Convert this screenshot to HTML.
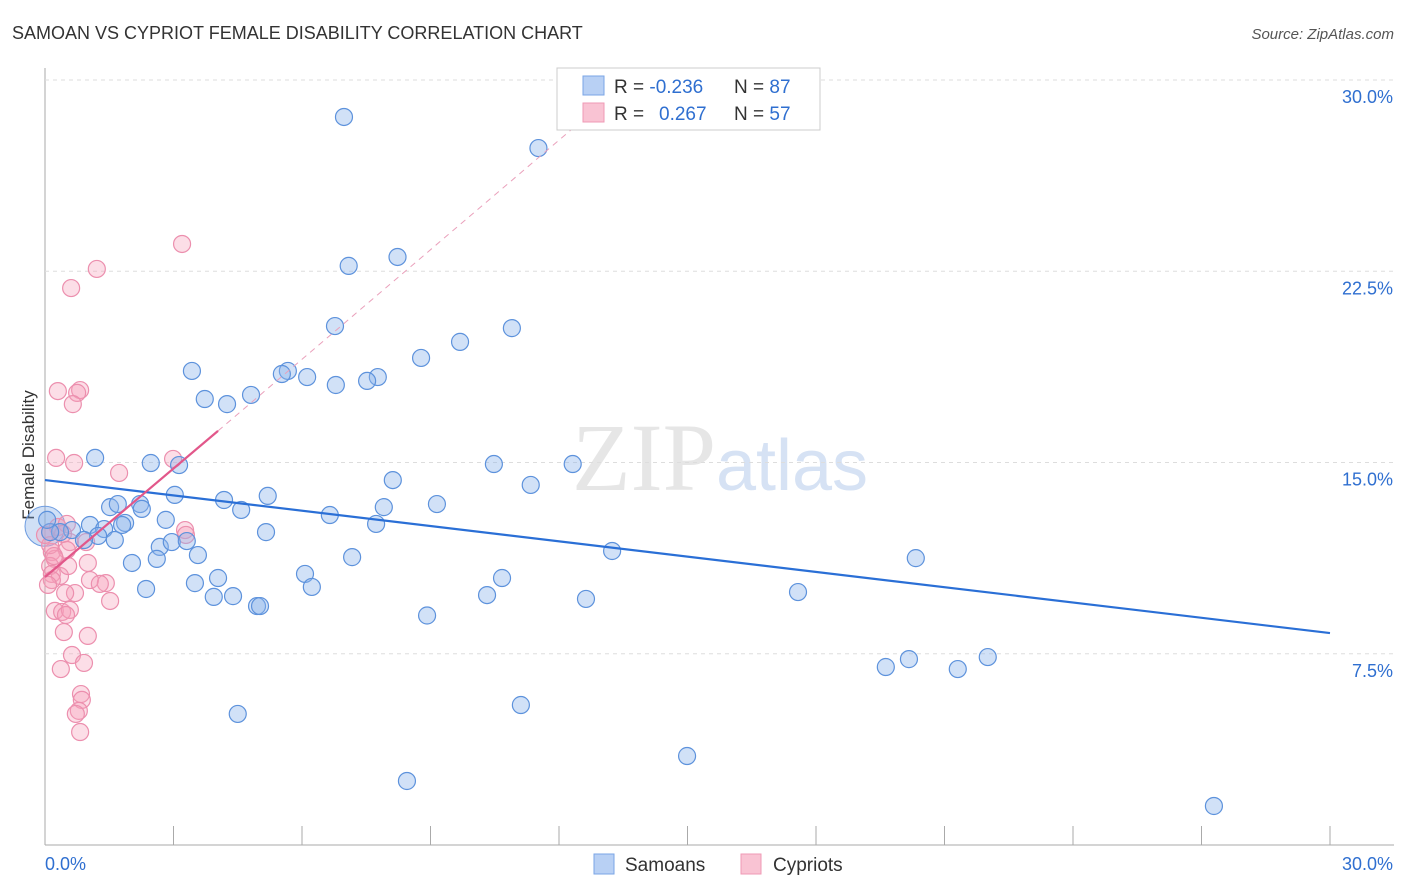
<!DOCTYPE html>
<html><head><meta charset="utf-8"><style>
body{margin:0;background:#fff;font-family:"Liberation Sans",sans-serif;}
svg{display:block}
</style></head><body>
<svg id="c" width="1406" height="892" xmlns="http://www.w3.org/2000/svg">
<text x="12" y="39" font-size="18" fill="#333">SAMOAN VS CYPRIOT FEMALE DISABILITY CORRELATION CHART</text>
<text x="1394" y="39" font-size="15" fill="#555" text-anchor="end" font-style="italic">Source: ZipAtlas.com</text>
<text transform="translate(34,455) rotate(-90)" font-size="17" fill="#333" text-anchor="middle">Female Disability</text>
<text x="720" y="490" font-size="96" fill="#e6e6e6" text-anchor="middle" font-family="Liberation Serif,serif">ZIP<tspan fill="#d6e2f4" font-family="Liberation Sans,sans-serif" font-size="72">atlas</tspan></text>
<g id="grid"></g><g id="marks"></g><g id="lines"></g>
<g>
<rect x="557" y="68" width="263" height="62" fill="#fff" stroke="#ccc"/>
<rect x="583" y="76" width="21" height="19" fill="#b8d0f4" stroke="#7aa5e6"/>
<rect x="583" y="103" width="21" height="19" fill="#f9c3d3" stroke="#ef9ab4"/>
<text x="614" y="93" font-size="19" fill="#333">R = <tspan fill="#2f6fd0">-0.236</tspan><tspan x="734">N = </tspan><tspan fill="#2f6fd0">87</tspan></text>
<text x="614" y="120" font-size="19" fill="#333">R = <tspan fill="#2f6fd0" x="659">0.267</tspan><tspan x="734">N = </tspan><tspan fill="#2f6fd0">57</tspan></text>
</g>
<g>
<rect x="594" y="854" width="20" height="20" fill="#b8d0f4" stroke="#7aa5e6"/>
<text x="625" y="871" font-size="19" fill="#333">Samoans</text>
<rect x="741" y="854" width="20" height="20" fill="#f9c3d3" stroke="#ef9ab4"/>
<text x="773" y="871" font-size="19" fill="#333">Cypriots</text>
</g>
</svg>
<script>
const xTicks=[0,3,6,9,12,15,18,21,24,27,30];
const yTicks=[7.5,15,22.5,30];
const yTickLabels=["7.5%","15.0%","22.5%","30.0%"];
const samoanX=[6.98,11.52,7.09,8.23,6.77,10.9,9.69,8.78,5.67,6.12,6.79,7.77,3.73,3.43,5.53,7.52,4.81,4.25,1.17,2.47,3.13,10.48,12.32,8.12,11.34,3.03,5.2,1.52,1.7,2.22,2.26,4.18,4.58,7.91,9.15,6.65,2.82,1.87,1.8,7.73,5.16,1.05,1.38,0.63,0.35,0.12,1.63,1.24,0.91,2.68,2.96,3.31,13.24,7.17,3.57,20.33,2.03,2.61,6.07,4.04,10.67,3.5,6.23,2.36,10.32,3.94,4.39,12.63,17.58,19.63,20.17,21.31,22.01,4.5,11.11,14.99,8.45,27.29,0.05,4.95,5.02,8.92];
const samoanY=[28.55,27.33,22.71,23.06,20.35,20.27,19.73,19.1,18.59,18.35,18.04,18.35,17.49,18.59,18.47,18.2,17.65,17.29,15.18,14.98,14.9,14.94,14.94,14.31,14.12,13.73,13.69,13.25,13.37,13.37,13.18,13.53,13.14,13.25,13.37,12.94,12.75,12.63,12.55,12.59,12.27,12.55,12.39,12.35,12.27,12.27,11.96,12.12,11.96,11.69,11.88,11.92,11.53,11.29,11.37,11.25,11.06,11.22,10.63,10.47,10.47,10.27,10.12,10.04,9.8,9.73,9.76,9.65,9.92,6.98,7.29,6.9,7.37,5.14,5.49,3.49,2.51,1.53,12.75,9.37,9.37,9.0];
const cypriotX=[3.2,1.21,0.61,0.3,0.82,0.75,0.65,0.26,0.68,1.73,2.99,0.12,0.3,0.51,0.42,0.58,0.96,0.16,0.51,0.23,0.12,0.16,0.35,0.54,1.0,0.16,1.05,1.42,0.7,1.52,0.23,0.4,0.58,0.49,1.0,0.44,0.63,0.37,0.91,0.84,0.86,0.79,0.72,0.82,3.27,3.29,0.12,0.0,0.21,0.07,1.28,0.47];
const cypriotY=[23.57,22.59,21.84,17.8,17.84,17.73,17.29,15.18,14.98,14.59,15.14,12.27,12.47,12.59,12.2,11.88,11.88,11.49,11.57,11.22,10.94,10.63,10.55,10.94,11.06,10.39,10.39,10.27,9.88,9.57,9.18,9.14,9.22,9.02,8.2,8.35,7.45,6.9,7.14,5.92,5.69,5.26,5.14,4.43,12.35,12.16,11.76,12.16,11.33,10.2,10.24,9.88];
const blueTrend=[[0,14.31],[30,8.31]];
const pinkTrend=[[0,10.51],[4.04,16.24]];
const pinkDash=[[4.04,16.24],[12.6,28.5]];
const X=v=>45+v/30*1285, Y=v=>845-v/7.5*191.25;
const NS="http://www.w3.org/2000/svg";
function mk(t,a,p){const e=document.createElementNS(NS,t);for(const k in a)e.setAttribute(k,a[k]);p.appendChild(e);return e;}
const g=document.getElementById('grid'),m=document.getElementById('marks'),l=document.getElementById('lines');
let ax=mk('line',{x1:45,y1:68,x2:45,y2:845,stroke:'#aaa'},g);

let bx=mk('line',{x1:45,y1:845,x2:1394,y2:845,stroke:'#aaa'},g);

yTicks.forEach((v,i)=>{const y=v==30?80:Y(v);
 const gl=mk('line',{x1:45,y1:y,x2:1394,y2:y,stroke:'#ddd','stroke-dasharray':'4,4'},g);
 
 const t=mk('text',{x:1393,y:y+23,'font-size':18,fill:'#2f6fd0','text-anchor':'end'},g);t.textContent=yTickLabels[i];
 });
xTicks.forEach(v=>{const tk=mk('line',{x1:X(v),y1:826,x2:X(v),y2:845,stroke:'#aaa'},g);
 });
[[0,"0.0%",'start',45],[30,"30.0%",'end',1393]].forEach(a=>{const t=mk('text',{x:a[3],y:870,'font-size':18,fill:'#2f6fd0','text-anchor':a[2]},g);t.textContent=a[1];
 });
const big=mk('circle',{cx:X(0),cy:Y(12.5),r:20,fill:'rgba(120,165,230,0.35)',stroke:'#6c9be0'},m);

cypriotX.forEach((v,i)=>{const c=mk('circle',{cx:X(v),cy:Y(cypriotY[i]),r:8.5,fill:'rgba(246,160,186,0.35)',stroke:'#ec8fae','stroke-width':1.2},m);
 });
samoanX.forEach((v,i)=>{const c=mk('circle',{cx:X(v),cy:Y(samoanY[i]),r:8.5,fill:'rgba(140,180,236,0.4)',stroke:'#5d92dc','stroke-width':1.2},m);
 });
const b=mk('line',{x1:X(blueTrend[0][0]),y1:Y(blueTrend[0][1]),x2:X(blueTrend[1][0]),y2:Y(blueTrend[1][1]),stroke:'#2a6fd6','stroke-width':2.2},l);

const p=mk('line',{x1:X(pinkTrend[0][0]),y1:Y(pinkTrend[0][1]),x2:X(pinkTrend[1][0]),y2:Y(pinkTrend[1][1]),stroke:'#e2578a','stroke-width':2.2},l);

const pd=mk('line',{x1:X(pinkDash[0][0]),y1:Y(pinkDash[0][1]),x2:X(pinkDash[1][0]),y2:Y(pinkDash[1][1]),stroke:'#eaa0bb','stroke-width':1,'stroke-dasharray':'6,5'},l);

</script>
</body></html>
